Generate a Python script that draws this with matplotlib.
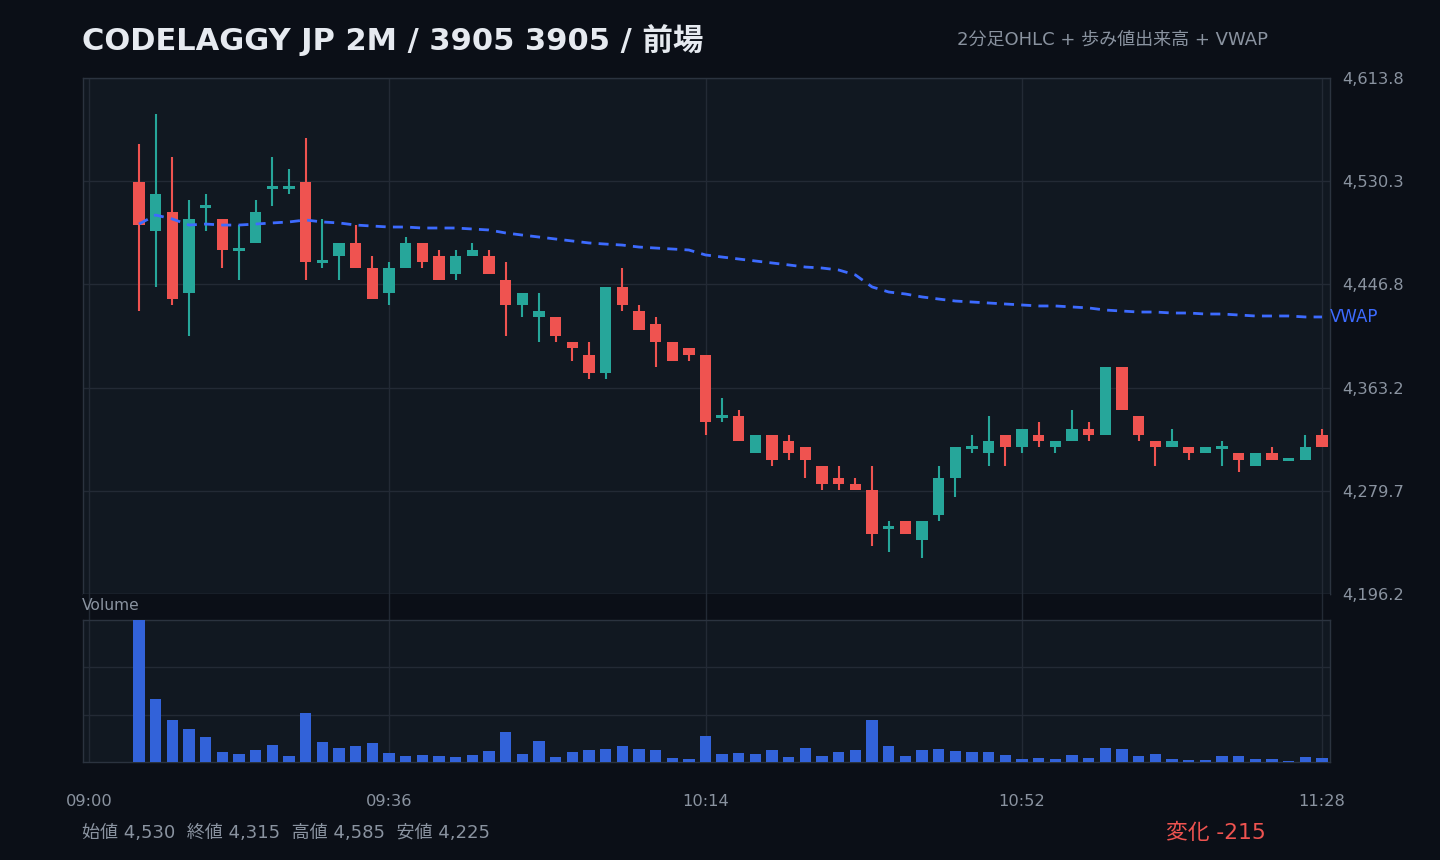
import matplotlib
matplotlib.use('Agg')
import matplotlib.pyplot as plt
import numpy as np
from matplotlib.transforms import blended_transform_factory

plt.rcParams['font.family'] = ['DejaVu Sans', 'Noto Sans CJK JP']

# ---------------- data ----------------
title = "CODELAGGY JP 2M / 3905 3905 / 前場"
subtitle = "2分足OHLC + 歩み値出来高 + VWAP"
start_minute = 6      # first bar 09:06 (minutes after 09:00)
bar_minutes = 2

opens = [4530, 4490, 4505, 4440, 4510, 4500, 4475, 4480, 4525, 4525, 4530, 4465,
         4470, 4480, 4460, 4440, 4460, 4480, 4470, 4455, 4470, 4470, 4450, 4430,
         4420, 4420, 4400, 4390, 4375, 4445, 4425, 4415, 4400, 4395, 4390, 4340,
         4340, 4310, 4325, 4320, 4315, 4300, 4290, 4285, 4280, 4250, 4255, 4240,
         4260, 4290, 4315, 4310, 4325, 4315, 4325, 4315, 4320, 4330, 4325, 4380,
         4340, 4320, 4315, 4315, 4310, 4315, 4310, 4300, 4310, 4305, 4305, 4325]
highs = [4560, 4585, 4550, 4515, 4520, 4500, 4495, 4515, 4550, 4540, 4565, 4500,
         4480, 4495, 4470, 4465, 4485, 4480, 4475, 4475, 4480, 4475, 4465, 4440,
         4440, 4420, 4400, 4400, 4445, 4460, 4430, 4420, 4400, 4395, 4390, 4355,
         4345, 4325, 4325, 4325, 4315, 4300, 4300, 4290, 4300, 4255, 4255, 4255,
         4300, 4315, 4325, 4340, 4325, 4330, 4335, 4320, 4345, 4335, 4380, 4380,
         4340, 4320, 4330, 4315, 4315, 4320, 4310, 4310, 4315, 4305, 4325, 4330]
lows = [4425, 4445, 4430, 4405, 4490, 4460, 4450, 4480, 4510, 4520, 4450, 4460,
        4450, 4460, 4435, 4430, 4460, 4460, 4450, 4450, 4470, 4455, 4405, 4420,
        4400, 4400, 4385, 4370, 4370, 4425, 4410, 4380, 4385, 4385, 4325, 4335,
        4320, 4310, 4300, 4305, 4290, 4280, 4280, 4280, 4235, 4230, 4245, 4225,
        4255, 4275, 4310, 4300, 4300, 4310, 4315, 4310, 4320, 4320, 4325, 4345,
        4320, 4300, 4315, 4305, 4310, 4300, 4295, 4300, 4305, 4305, 4305, 4315]
closes = [4495, 4520, 4435, 4500, 4510, 4475, 4475, 4505, 4525, 4525, 4465, 4465,
          4480, 4460, 4435, 4460, 4480, 4465, 4450, 4470, 4475, 4455, 4430, 4440,
          4425, 4405, 4395, 4375, 4445, 4430, 4410, 4400, 4385, 4390, 4335, 4340,
          4320, 4325, 4305, 4310, 4305, 4285, 4285, 4280, 4245, 4250, 4245, 4255,
          4290, 4315, 4315, 4320, 4315, 4330, 4320, 4320, 4330, 4325, 4380, 4345,
          4325, 4315, 4320, 4310, 4315, 4315, 4305, 4310, 4305, 4305, 4315, 4315]
volumes = [1423, 633, 423, 333, 253, 103, 83, 123, 173, 63, 493, 203,
           143, 163, 193, 93, 63, 73, 63, 53, 73, 113, 303, 83,
           213, 53, 103, 123, 133, 163, 133, 123, 43, 33, 263, 83,
           93, 83, 123, 53, 143, 63, 103, 123, 423, 163, 63, 123,
           133, 113, 103, 103, 73, 33, 43, 33, 73, 43, 143, 133,
           63, 83, 33, 23, 23, 63, 63, 33, 33, 13, 53, 43]
vwap = [4495.6, 4502.9, 4499.7, 4494.8, 4495.6, 4494.8, 4494.8, 4495.6, 4496.5, 4497.3,
        4498.9, 4497.3, 4496.5, 4494.8, 4494.0, 4493.2, 4493.2, 4492.4, 4492.4, 4492.4,
        4491.6, 4490.8, 4488.4, 4486.7, 4485.1, 4483.5, 4481.9, 4480.3, 4479.4, 4478.6,
        4477.0, 4476.2, 4475.4, 4474.6, 4470.6, 4468.9, 4467.3, 4465.7, 4464.1, 4462.5,
        4460.8, 4460.0, 4458.4, 4454.4, 4444.7, 4440.6, 4439.0, 4436.6, 4434.9, 4433.3,
        4432.5, 4431.7, 4430.9, 4430.1, 4429.3, 4429.3, 4428.5, 4427.7, 4426.0, 4425.2,
        4424.4, 4424.4, 4423.6, 4423.6, 4422.8, 4422.8, 4422.0, 4421.2, 4421.2, 4421.2,
        4420.4, 4420.4]

xtick_minutes = [0, 36, 74, 112, 148]
xtick_labels = ["09:00", "09:36", "10:14", "10:52", "11:28"]
y_min, y_max = 4196.2, 4613.8

# ---------------- style ----------------
BG = '#0b0f17'
PANEL = '#111821'
GRID = '#232a35'
SPINE = '#2b333f'
TXT = '#8a93a0'
UP = '#26a69a'
DN = '#ef5350'
VOLC = '#3262d9'
VWAPC = '#3d6bff'

W, H = 1440, 860
fig = plt.figure(figsize=(W / 100, H / 100), dpi=100, facecolor=BG)


def rect(l, t, r, b):
    return [l / W, 1 - b / H, (r - l) / W, (b - t) / H]


ax = fig.add_axes(rect(83, 78, 1330, 594))
axg = fig.add_axes(rect(83, 594, 1330, 620))
axv = fig.add_axes(rect(83, 620, 1330, 762))

times = np.array([start_minute + bar_minutes * i for i in range(len(opens))])
o = np.array(opens, float)
c = np.array(closes, float)
hi = np.array(highs, float)
lo = np.array(lows, float)
up = c >= o
cols = np.where(up, UP, DN)

xlim = (-0.72, 148.96)
bw = 1.36

# price panel
ax.set_facecolor(PANEL)
ax.vlines(times, lo, hi, colors=cols, linewidth=1.5, zorder=2)
body = np.abs(c - o)
min_h = 2.4
bottom = np.where(body < min_h, (o + c) / 2 - min_h / 2, np.minimum(o, c))
height = np.maximum(body, min_h)
ax.bar(times, height, bottom=bottom, width=bw, color=cols, linewidth=0, zorder=3)
ax.plot(times, vwap, color=VWAPC, lw=2.0, dashes=(3.6, 2.6), zorder=4)
tr = blended_transform_factory(ax.transAxes, ax.transData)
ax.text(1.0, vwap[-1], 'VWAP', transform=tr, color=VWAPC, fontsize=12, ha='left', va='center')

ax.set_xlim(*xlim)
ax.set_ylim(y_min, y_max)
ax.set_xticks(xtick_minutes)
ax.set_xticklabels([])
yt = np.linspace(y_min, y_max, 6)
ax.set_yticks(yt)
ax.set_yticklabels([f"{v:,.1f}" for v in yt])
ax.yaxis.tick_right()
ax.tick_params(axis='y', length=0, pad=9, labelsize=11.7, labelcolor=TXT)
ax.tick_params(axis='x', length=0)
ax.grid(True, color=GRID, lw=1, zorder=0)
ax.set_axisbelow(True)
for s in ax.spines.values():
    s.set_color(SPINE)
    s.set_linewidth(1)

# gap strip
axg.set_facecolor(BG)
axg.set_xlim(*xlim)
axg.set_ylim(0, 1)
axg.set_xticks(xtick_minutes)
axg.set_xticklabels([])
axg.set_yticks([])
axg.tick_params(length=0)
axg.grid(True, axis='x', color=GRID, lw=1)
for s in axg.spines.values():
    s.set_visible(False)

# volume panel
axv.set_facecolor(PANEL)
axv.bar(times, volumes, width=bw, color=VOLC, linewidth=0, zorder=3)
vmax = max(volumes)
axv.set_xlim(*xlim)
axv.set_ylim(0, vmax)
axv.set_yticks([vmax / 3, 2 * vmax / 3])
axv.set_yticklabels([])
axv.set_xticks(xtick_minutes)
axv.set_xticklabels(xtick_labels)
axv.tick_params(axis='x', length=0, pad=23, labelsize=11.7, labelcolor=TXT)
axv.tick_params(axis='y', length=0)
axv.grid(True, color=GRID, lw=1, zorder=0)
axv.set_axisbelow(True)
for s in axv.spines.values():
    s.set_color(SPINE)
    s.set_linewidth(1)

# texts
fig.text(82 / W, 1 - 40 / H, title, color='#e6eaf0', fontsize=22, ha='left', va='center',
         fontweight='bold')
fig.text(1268 / W, 1 - 40 / H, subtitle, color=TXT, fontsize=13, ha='right', va='center')
fig.text(82 / W, 1 - 606 / H, 'Volume', color=TXT, fontsize=11.2, ha='left', va='center')
footer = (f"始値 {opens[0]:,}  終値 {closes[-1]:,}  "
          f"高値 {max(highs):,}  安値 {min(lows):,}")
fig.text(82 / W, 1 - 833 / H, footer, color=TXT, fontsize=13, ha='left', va='center')
change = closes[-1] - opens[0]
fig.text(1266 / W, 1 - 833 / H, f"変化 {change:+,}", color=DN if change < 0 else UP,
         fontsize=15.7, ha='right', va='center')

fig.savefig('out.png', dpi=100, facecolor=BG)
